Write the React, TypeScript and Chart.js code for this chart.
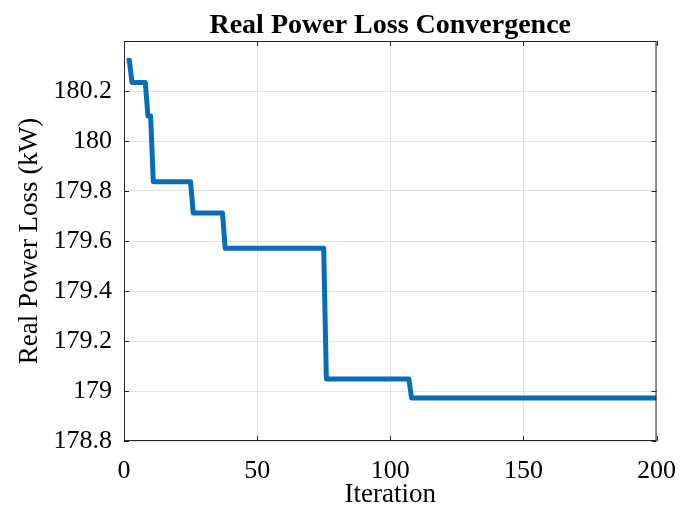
import React, { useEffect, useRef } from "react";
import { Chart, registerables } from "chart.js";

Chart.register(...registerables);

// Change points of the best-so-far loss (iteration where a new level starts)
const stepIterations = [1, 3, 9, 11, 26, 38, 76, 108];
const stepValues = [180.323, 180.234, 180.1, 179.837, 179.712, 179.571, 179.048, 178.972];
const lastIteration = 200;

const xTicks = [0, 50, 100, 150, 200];
const yTicks = [178.8, 179, 179.2, 179.4, 179.6, 179.8, 180, 180.2];

const titleText = "Real Power Loss Convergence";
const xLabel = "Iteration";
const yLabel = "Real Power Loss (kW)";

function buildSeries() {
  const pts: { x: number; y: number }[] = [];
  let k = 0;
  for (let it = 1; it <= lastIteration; it++) {
    while (k + 1 < stepIterations.length && it >= stepIterations[k + 1]) k++;
    pts.push({ x: it, y: stepValues[k] });
  }
  return pts;
}

const SERIF = "'Liberation Serif', 'Times New Roman', serif";

const boxPlugin = {
  id: "matlabBox",
  afterDraw(chart: any) {
    const { ctx, chartArea: a, scales } = chart;
    ctx.save();
    ctx.strokeStyle = "#262626";
    ctx.lineWidth = 1;
    ctx.strokeRect(a.left + 0.5, a.top + 0.5, a.right - a.left - 1, a.bottom - a.top - 1);
    const tl = 5;
    ctx.beginPath();
    for (const v of xTicks) {
      const x = Math.round(scales.x.getPixelForValue(v)) + 0.5;
      ctx.moveTo(x, a.bottom);
      ctx.lineTo(x, a.bottom - tl);
      ctx.moveTo(x, a.top);
      ctx.lineTo(x, a.top + tl);
    }
    for (const v of yTicks) {
      const y = Math.round(scales.y.getPixelForValue(v)) + 0.5;
      ctx.moveTo(a.left, y);
      ctx.lineTo(a.left + tl, y);
      ctx.moveTo(a.right, y);
      ctx.lineTo(a.right - tl, y);
    }
    ctx.stroke();
    ctx.restore();
  },
};

export default function App() {
  const ref = useRef<HTMLCanvasElement | null>(null);
  useEffect(() => {
    if (!ref.current) return;
    const chart = new Chart(ref.current, {
      type: "line",
      data: {
        datasets: [
          {
            data: buildSeries(),
            borderColor: "#086db9",
            borderWidth: 5,
            pointRadius: 0,
            tension: 0,
            fill: false,
            borderJoinStyle: "round",
            borderCapStyle: "butt",
          },
        ],
      },
      options: {
        animation: false,
        responsive: false,
        maintainAspectRatio: false,
        layout: { padding: { left: 0, right: 36, top: 0, bottom: 0 } },
        plugins: {
          legend: { display: false },
          tooltip: { enabled: false },
          title: {
            display: true,
            text: titleText,
            fullSize: false,
            color: "#000",
            font: { family: SERIF, size: 28, weight: "bold", lineHeight: 1 },
            padding: { top: 12, bottom: 1 },
          },
        },
        scales: {
          x: {
            type: "linear",
            min: 0,
            max: 200,
            afterBuildTicks: (s: any) => {
              s.ticks = xTicks.map((v) => ({ value: v }));
            },
            afterFit: (s: any) => {
              s.height = 65;
            },
            ticks: {
              color: "#000",
              font: { family: SERIF, size: 26, lineHeight: 1 },
              padding: 17,
              maxRotation: 0,
            },
            grid: { color: "#e3e3e3", drawTicks: false },
            border: { display: false },
            title: {
              display: true,
              text: xLabel,
              color: "#000",
              font: { family: SERIF, size: 27, lineHeight: 0.8 },
              padding: { top: 0, bottom: 0 },
            },
          },
          y: {
            type: "linear",
            min: 178.8,
            max: 180.4,
            afterBuildTicks: (s: any) => {
              s.ticks = yTicks.map((v) => ({ value: v }));
            },
            afterFit: (s: any) => {
              s.width = 124;
            },
            ticks: {
              color: "#000",
              font: { family: SERIF, size: 26, lineHeight: 1 },
              padding: 12,
              callback: (v: any) => String(Math.round(Number(v) * 10) / 10),
            },
            grid: { color: "#e3e3e3", drawTicks: false },
            border: { display: false },
            title: {
              display: true,
              text: yLabel,
              color: "#000",
              font: { family: SERIF, size: 27, lineHeight: 1 },
              padding: { top: 16, bottom: 0 },
            },
          },
        },
      },
      plugins: [boxPlugin],
    } as any);
    return () => chart.destroy();
  }, []);
  return (
    <div style={{ position: "absolute", left: 0, top: 0, width: 693, height: 506, background: "#fff" }}>
      <canvas ref={ref} width={693} height={506} style={{ width: 693, height: 506, display: "block" }} />
    </div>
  );
}
